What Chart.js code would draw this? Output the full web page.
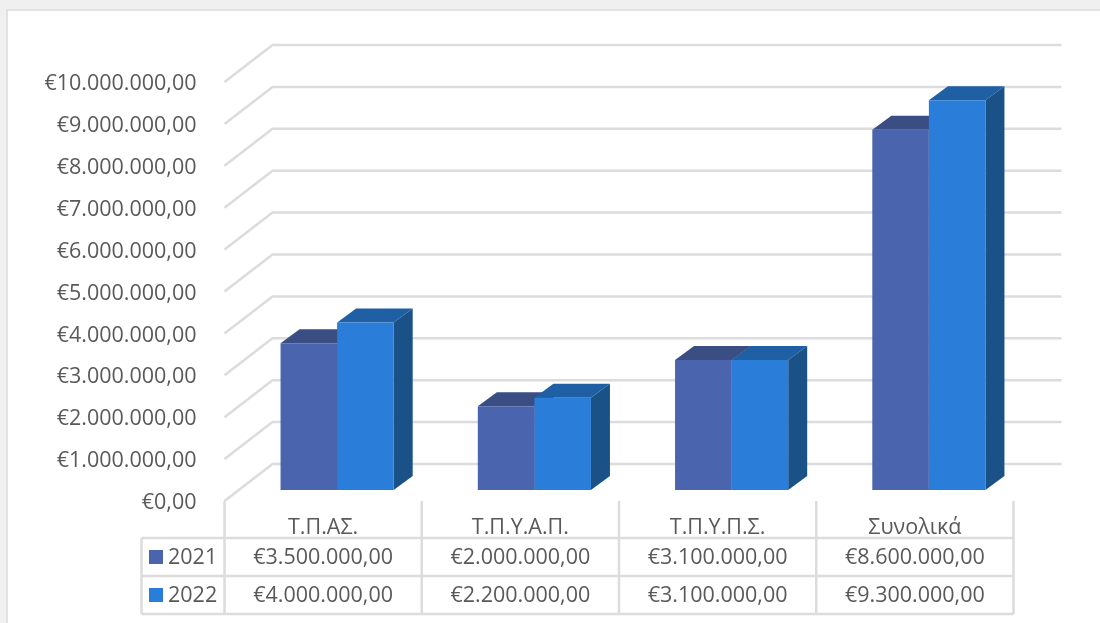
<!DOCTYPE html>
<html>
<head>
<meta charset="utf-8">
<style>
  html, body { margin: 0; padding: 0; background: #f0f0f0; overflow: hidden; }
  canvas { display: block; }
</style>
</head>
<body>
<div style="width:1100px;height:623px"><canvas id="chart"></canvas></div>
<script src="https://cdn.jsdelivr.net/npm/chart.js@4"></script>
<script>
const categories = ['Τ.Π.ΑΣ.', 'Τ.Π.Υ.Α.Π.', 'Τ.Π.Υ.Π.Σ.', 'Συνολικά'];
const seriesNames = ['2021', '2022'];
const values2021 = [3500000, 2000000, 3100000, 8600000];
const values2022 = [4000000, 2200000, 3100000, 9300000];
const yMax = 10000000;
const yStep = 1000000;

const fontName = '"Open Sans", sans-serif';
const fontSize = 21.5;
const textColor = '#595959';
const lineColor = '#dcdcdc';
const frontColors = ['#4a65ad', '#2a7dd8'];
const topColors = ['#3a4e84', '#1f5fa3'];
const sideColors = ['#33466f', '#1a5288'];

// depth of the back wall and of the bars, and how far the bars sit from the front edge
const wallDepth = { x: 48, y: 37 };
const barDepth = { x: 19, y: 14 };
const barShift = { x: 14, y: -11 };

function euro(v) {
    return '€' + v.toLocaleString('de-DE', { minimumFractionDigits: 2, maximumFractionDigits: 2 });
}

function poly(ctx, color, pts) {
    ctx.fillStyle = color;
    ctx.beginPath();
    pts.forEach((p, i) => i ? ctx.lineTo(p[0], p[1]) : ctx.moveTo(p[0], p[1]));
    ctx.closePath();
    ctx.fill();
}

const frame3d = {
    id: 'frame3d',
    beforeDraw(chart) {
        const ctx = chart.ctx;
        ctx.save();
        ctx.fillStyle = '#f0f0f0';
        ctx.fillRect(0, 0, chart.width, chart.height);
        ctx.fillStyle = '#ffffff';
        ctx.fillRect(7, 10, chart.width, chart.height);
        ctx.strokeStyle = lineColor;
        ctx.lineWidth = 1.5;
        ctx.beginPath();
        ctx.moveTo(7, chart.height);
        ctx.lineTo(7, 10);
        ctx.lineTo(chart.width, 10);
        ctx.stroke();
        ctx.restore();
    },
    beforeDatasetsDraw(chart) {
        const ctx = chart.ctx;
        const area = chart.chartArea;
        const y = chart.scales.y;
        ctx.save();
        // gridlines run over the side wall and along the back wall
        ctx.strokeStyle = lineColor;
        ctx.lineWidth = 2.5;
        y.ticks.forEach((t) => {
            const py = y.getPixelForValue(t.value);
            ctx.beginPath();
            ctx.moveTo(area.left, py);
            ctx.lineTo(area.left + wallDepth.x, py - wallDepth.y);
            ctx.lineTo(area.right + wallDepth.x, py - wallDepth.y);
            ctx.stroke();
        });
        // bars: depth faces first, the library paints the fronts on top
        ctx.translate(barShift.x, barShift.y);
        chart.data.datasets.forEach((ds, d) => {
            chart.getDatasetMeta(d).data.forEach((bar) => {
                const p = bar.getProps(['x', 'y', 'base', 'width'], true);
                const l = p.x - p.width / 2;
                const r = p.x + p.width / 2;
                poly(ctx, topColors[d], [[l, p.y], [l + barDepth.x, p.y - barDepth.y], [r + barDepth.x, p.y - barDepth.y], [r, p.y]]);
                poly(ctx, sideColors[d], [[r, p.y], [r + barDepth.x, p.y - barDepth.y], [r + barDepth.x, p.base - barDepth.y], [r, p.base]]);
            });
        });
        ctx.restore();
        ctx.save();
        ctx.translate(barShift.x, barShift.y);
    },
    afterDatasetsDraw(chart) {
        chart.ctx.restore();
    },
    afterDraw(chart) {
        const ctx = chart.ctx;
        const x = chart.scales.x;
        const area = chart.chartArea;
        const rows = [values2021, values2022];
        const rowTop = 538;
        const rowH = 38;
        const tableLeft = 141.5;
        const colW = (area.right - area.left) / categories.length;
        ctx.save();
        ctx.strokeStyle = lineColor;
        ctx.lineWidth = 2.5;
        ctx.beginPath();
        for (let c = 0; c <= categories.length; c++) {
            ctx.moveTo(area.left + c * colW, area.bottom);
            ctx.lineTo(area.left + c * colW, rowTop + rowH * rows.length);
        }
        for (let r = 0; r <= rows.length; r++) {
            ctx.moveTo(tableLeft, rowTop + r * rowH);
            ctx.lineTo(area.right, rowTop + r * rowH);
        }
        ctx.moveTo(tableLeft, rowTop);
        ctx.lineTo(tableLeft, rowTop + rowH * rows.length);
        ctx.stroke();

        ctx.textBaseline = 'middle';
        ctx.font = fontSize + 'px ' + fontName;
        rows.forEach((vals, r) => {
            const cy = rowTop + r * rowH + rowH / 2;
            ctx.fillStyle = frontColors[r];
            ctx.fillRect(149, cy - 7, 14, 14);
            ctx.fillStyle = textColor;
            ctx.textAlign = 'left';
            ctx.fillText(seriesNames[r], 168, cy + 1);
            ctx.textAlign = 'center';
            vals.forEach((v, c) => ctx.fillText(euro(v), x.getPixelForValue(c), cy + 1));
        });
        ctx.restore();
    }
};

new Chart(document.getElementById('chart'), {
    type: 'bar',
    data: {
        labels: categories,
        datasets: [
            { label: seriesNames[0], data: values2021, backgroundColor: frontColors[0] },
            { label: seriesNames[1], data: values2022, backgroundColor: frontColors[1] }
        ]
    },
    plugins: [frame3d],
    options: {
        responsive: true,
        maintainAspectRatio: false,
        animation: false,
        clip: false,
        layout: { padding: { left: 0, top: 82, right: 86.5, bottom: 0 } },
        plugins: { legend: { display: false }, tooltip: { enabled: false } },
        datasets: { bar: { categoryPercentage: 113 / 197, barPercentage: 1 } },
        scales: {
            x: {
                grid: { display: false, drawTicks: false },
                border: { display: false },
                ticks: { color: textColor, font: { family: fontName, size: fontSize }, padding: 14, maxRotation: 0 },
                afterFit(scale) { scale.height = 122; }
            },
            y: {
                min: 0,
                max: yMax,
                grid: { display: false, drawTicks: false },
                border: { display: false },
                ticks: {
                    stepSize: yStep,
                    color: textColor,
                    font: { family: fontName, size: fontSize },
                    padding: 28,
                    labelOffset: 2,
                    callback: (v) => euro(v)
                },
                afterFit(scale) { scale.width = 224.5; }
            }
        }
    }
});
</script>
</body>
</html>
